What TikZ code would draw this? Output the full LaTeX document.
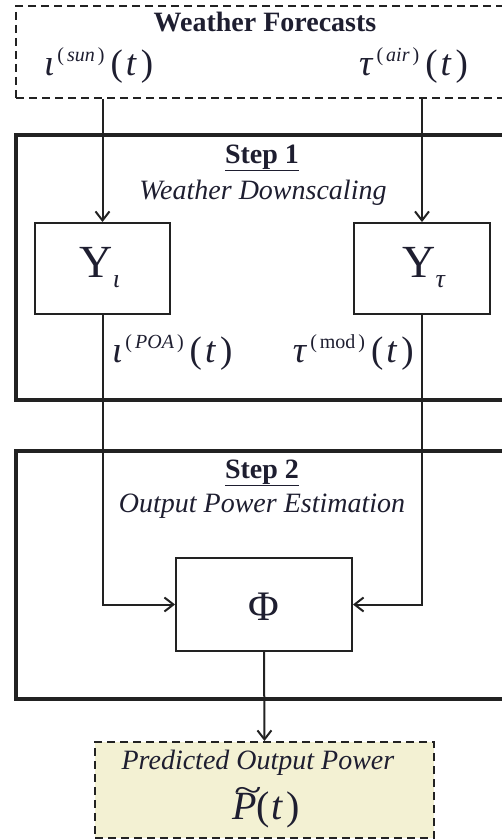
\documentclass[tikz,border=0pt]{standalone}
\usepackage{fontspec}
\setmainfont{Liberation Serif}
\usetikzlibrary{arrows.meta}
\definecolor{predfill}{HTML}{F3F1D3}
\definecolor{ink}{HTML}{1E1E30}
\definecolor{linec}{HTML}{222222}
\newcommand\fsz[1]{\fontsize{#1}{#1}\selectfont}
\newcommand\supp[1]{\hspace{3pt}\raisebox{14pt}{\fsz{20}(\hspace{3pt}#1\hspace{3pt})}}
\newcommand\targ{\hspace{6pt}(\hspace{3pt}\textit{t}\hspace{4pt})}
\begin{document}
\begin{tikzpicture}[x=1pt,y=-1pt,
  thickbox/.style={draw=linec, line width=4pt, inner sep=0pt},
  blockbox/.style={draw=linec, line width=1.9pt, inner sep=0pt},
  dashbox/.style={draw=linec, line width=2pt, dash pattern=on 8pt off 5pt, inner sep=0pt},
  conn/.style={draw=linec, line width=2pt, -{Straight Barb[length=9pt,width=14pt,line width=2pt]}},
  txt/.style={inner sep=0pt, text=ink},
]
\useasboundingbox (0,0) rectangle (501,840);

% containers
\node[dashbox, anchor=north west, minimum width=510pt, minimum height=92pt] (fc) at (15,5) {};
\node[thickbox, anchor=north west, minimum width=510pt, minimum height=265pt] (s1) at (14,133) {};
\node[thickbox, anchor=north west, minimum width=510pt, minimum height=248pt] (s2) at (14,449) {};

% blocks
\node[blockbox, minimum width=135pt, minimum height=91pt] (yi) at (102.5,268.5) {};
\node[blockbox, minimum width=136pt, minimum height=91pt] (yt) at (422,268.5) {};
\node[blockbox, minimum width=176pt, minimum height=93pt] (phi) at (264,604.5) {};
\node[dashbox, fill=predfill, minimum width=339pt, minimum height=96pt] (pred) at (264.5,790) {};

% block contents
\node[txt] (yilab) at (100,268) {\fsz{46}Y\raisebox{-10pt}{\fsz{26}\textit{ι}}};
\node[txt] (ytlab) at (424,268) {\fsz{46}Y\raisebox{-10pt}{\fsz{26}\textit{τ}}};
\node[txt] (philab) at (264,607) {\fsz{42}Φ};

% texts
\node[txt] (wf) at (265,22) {\fsz{28}\textbf{Weather Forecasts}};
\node[txt, anchor=west] (sun) at (44,66) {\fsz{37}\textit{ι}\supp{\textit{sun}}\targ};
\node[txt, anchor=west] (air) at (359,66) {\fsz{37}\textit{τ}\supp{\textit{air}}\targ};
\node[txt] (st1) at (262,158) {\fsz{28}\textbf{\underline{Step 1}}};
\node[txt] (wd) at (263,193) {\fsz{28}\textit{Weather Downscaling}};
\node[txt, anchor=west] (poa) at (112,352) {\fsz{37}\textit{ι}\supp{\textit{POA}}\targ};
\node[txt, anchor=east] (mod) at (414,352) {\fsz{37}\textit{τ}\supp{mod}\targ};
\node[txt] (st2) at (262,473) {\fsz{28}\textbf{\underline{Step 2}}};
\node[txt] (ope) at (262,506) {\fsz{28}\textit{Output Power Estimation}};
\node[txt] (pot) at (258,763) {\fsz{28}\textit{Predicted Output Power}};
\node[txt] (pt) at (266,810) {\fsz{40}\makebox[0pt][l]{\hspace{2pt}\smash{\raisebox{18pt}{\scalebox{1.5}[1]{\fsz{34}\textasciitilde}}}}\textit{P}(\hspace{2pt}\textit{t}\hspace{3pt})};

% connectors
\draw[conn] (yi.north |- fc.south) -- (yi.north);
\draw[conn] (yt.north |- fc.south) -- (yt.north);
\draw[conn] (yi.south) -- (yi.south |- phi.west) -- (phi.west);
\draw[conn] (yt.south) -- (yt.south |- phi.east) -- (phi.east);
\draw[conn] (phi.south) -- (pred.north);
\end{tikzpicture}
\end{document}
